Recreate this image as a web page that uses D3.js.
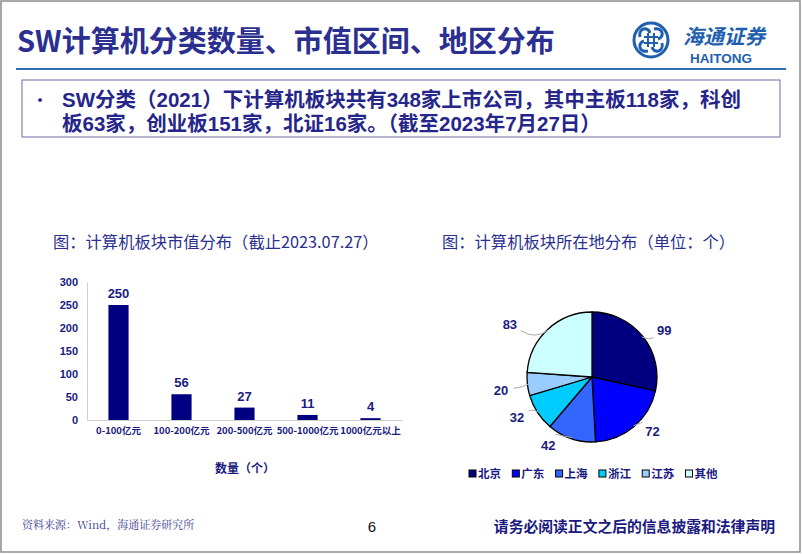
<!DOCTYPE html>
<html>
<head>
<meta charset="utf-8">
<script src="https://cdn.jsdelivr.net/npm/d3@7"></script>
<style>
  body { margin: 0; background: #fff; }
  svg text { font-family: "Noto Sans CJK SC", "Liberation Sans", Arial, sans-serif; }
</style>
</head>
<body>
<div id="chart"></div>
<script>
var width = 802, height = 554;
var navy = "#25258a";

// bar chart data
var capCategories = ["0-100亿元", "100-200亿元", "200-500亿元", "500-1000亿元", "1000亿元以上"];
var capCounts = [250, 56, 27, 11, 4];
var capTicks = [0, 50, 100, 150, 200, 250, 300];

// pie data
var regions = ["北京", "广东", "上海", "浙江", "江苏", "其他"];
var regionCounts = [99, 72, 42, 32, 20, 83];
var regionColors = ["#000080", "#0000ff", "#3366ff", "#00ccff", "#99ccff", "#ccffff"];

var svg = d3.select("#chart").append("svg").attr("width", width).attr("height", height);

// slide frame
svg.append("rect").attr("x", 1).attr("y", 1).attr("width", width - 3).attr("height", height - 3)
  .style("fill", "none").style("stroke", "#8c8c8c").style("stroke-width", 1.5);

// header
svg.append("text").attr("x", 17).attr("y", 52).text("SW计算机分类数量、市值区间、地区分布")
  .style("font-size", "29px").style("font-weight", "bold").style("fill", "#2b2f8f");
svg.append("line").attr("x1", 16).attr("x2", 786).attr("y1", 69).attr("y2", 69)
  .style("stroke", "#2f6fb3").style("stroke-width", 2);

// logo
var logo = svg.append("g").attr("transform", "translate(651,40)");
logo.append("circle").attr("r", 17).style("fill", "none").style("stroke", "#1f5fae").style("stroke-width", 3);
logo.append("path").attr("d", "M-11,-3 C-13,-12 -3,-14 -1,-7 M11,3 C13,12 3,14 1,7 M-3,11 C-12,13 -14,3 -7,1 M3,-11 C12,-13 14,-3 7,-1")
  .style("fill", "none").style("stroke", "#1f5fae").style("stroke-width", 3);
logo.append("path").attr("d", "M-7,-3 H7 M-7,3 H7 M-3,-7 V7 M3,-7 V7")
  .style("fill", "none").style("stroke", "#1f5fae").style("stroke-width", 2);
svg.append("text").attr("x", 683).attr("y", 44).text("海通证券")
  .style("font-size", "20.5px").style("font-style", "italic").style("font-weight", "bold").style("fill", "#1f5fae");
svg.append("text").attr("x", 721).attr("y", 63).attr("text-anchor", "middle").text("HAITONG")
  .style("font-size", "13.5px").style("font-weight", "bold").style("fill", "#1f5fae")
  .style("font-family", "Liberation Sans, Arial, sans-serif");

// summary box
svg.append("rect").attr("x", 22).attr("y", 80).attr("width", 758).attr("height", 57)
  .style("fill", "#fff").style("stroke", "#6a6aa8").style("stroke-width", 1);
svg.append("text").attr("x", 31).attr("y", 107).text("•")
  .style("font-size", "18px").style("fill", navy);
var boxLines = ["SW分类（2021）下计算机板块共有348家上市公司，其中主板118家，科创",
                "板63家，创业板151家，北证16家。（截至2023年7月27日）"];
svg.selectAll(".boxline").data(boxLines).enter().append("text")
  .attr("class", "boxline")
  .attr("x", 62).attr("y", function(d, i) { return 107 + i * 24; })
  .text(function(d) { return d; })
  .style("font-family", "Liberation Sans, Noto Sans CJK SC, sans-serif")
  .style("font-size", "20.5px").style("font-weight", "bold").style("fill", navy);

// chart titles
svg.append("text").attr("x", 53).attr("y", 248).text("图：计算机板块市值分布（截止2023.07.27）")
  .style("font-size", "16.3px").style("fill", "#2b2f8f");
svg.append("text").attr("x", 442).attr("y", 248).text("图：计算机板块所在地分布（单位：个）")
  .style("font-size", "16.3px").style("fill", "#2b2f8f");

// bar chart
var x = d3.scaleBand().domain(capCategories).range([87, 402]).paddingInner(0.68).paddingOuter(0.34);
var y = d3.scaleLinear().domain([0, 300]).range([420, 282]);

var g = svg.append("g");
var yAxis = g.append("g").attr("transform", "translate(87,0)")
  .call(d3.axisLeft(y).tickValues(capTicks).tickSize(0).tickPadding(9));
yAxis.select(".domain").style("stroke", "#d0d0d0");
yAxis.selectAll("text").style("font-size", "11px").style("font-weight", "bold").style("fill", "#1a1a80")
  .style("font-family", "Liberation Sans, Arial, sans-serif");

var xAxis = g.append("g").attr("transform", "translate(0,420)")
  .call(d3.axisBottom(x).tickSize(0).tickPadding(7));
xAxis.select(".domain").style("stroke", "#d0d0d0");
xAxis.selectAll("text").style("font-size", "9.5px").style("font-weight", "bold").style("fill", "#1a1a80");

g.selectAll(".bar").data(capCounts).enter().append("rect")
  .attr("class", "bar")
  .attr("x", function(d, i) { return x(capCategories[i]); })
  .attr("y", function(d) { return y(d); })
  .attr("width", x.bandwidth())
  .attr("height", function(d) { return y(0) - y(d); })
  .style("fill", "#000080");

g.selectAll(".barlabel").data(capCounts).enter().append("text")
  .attr("class", "barlabel")
  .attr("x", function(d, i) { return x(capCategories[i]) + x.bandwidth() / 2; })
  .attr("y", function(d) { return y(d) - 7; })
  .attr("text-anchor", "middle")
  .text(function(d) { return d; })
  .style("font-size", "13px").style("font-weight", "bold").style("fill", "#1a1a80")
  .style("font-family", "Liberation Sans, Arial, sans-serif");

svg.append("text").attr("x", 245).attr("y", 473).attr("text-anchor", "middle").text("数量（个）")
  .style("font-size", "12px").style("font-weight", "bold").style("fill", "#1a1a80");

// pie chart
var cx = 592, cy = 377, r = 65;
var pie = d3.pie().sort(null).value(function(d) { return d; });
var arcs = pie(regionCounts);
var arc = d3.arc().innerRadius(0).outerRadius(r);
var pg = svg.append("g").attr("transform", "translate(" + cx + "," + cy + ")");
pg.selectAll(".slice").data(arcs).enter().append("path")
  .attr("class", "slice")
  .attr("d", arc)
  .style("fill", function(d, i) { return regionColors[i]; })
  .style("stroke", "#000").style("stroke-width", 1.3);

// label placement: distance from centre and angular nudge (degrees) per slice
var labelDist = [86, 81, 81, 85, 92, 98];
var labelNudge = [6, -8, 14, 5, -2, -14];
function labelAngle(d, i) { return (d.startAngle + d.endAngle) / 2 + labelNudge[i] * Math.PI / 180; }

pg.selectAll(".leader").data(arcs).enter().append("path")
  .attr("class", "leader")
  .attr("d", function(d, i) {
    var a = labelAngle(d, i);
    var mid = (d.startAngle + d.endAngle) / 2;
    var p1 = [Math.sin(mid) * (r - 1), -Math.cos(mid) * (r - 1)];
    var p2 = [Math.sin(a) * (labelDist[i] - 13), -Math.cos(a) * (labelDist[i] - 13)];
    var c = [Math.sin(a) * (r + 3), -Math.cos(a) * (r + 3)];
    return "M" + p1 + "Q" + c + " " + p2;
  })
  .style("fill", "none").style("stroke", "#a8a8a8").style("stroke-width", 1);

pg.selectAll(".pielabel").data(arcs).enter().append("text")
  .attr("class", "pielabel")
  .attr("x", function(d, i) { return Math.sin(labelAngle(d, i)) * labelDist[i]; })
  .attr("y", function(d, i) { return -Math.cos(labelAngle(d, i)) * labelDist[i] + 5; })
  .attr("text-anchor", "middle")
  .text(function(d) { return d.data; })
  .style("font-size", "13px").style("font-weight", "bold").style("fill", "#1a1a80")
  .style("font-family", "Liberation Sans, Arial, sans-serif");

// legend
var legend = svg.selectAll(".legend").data(regions).enter().append("g")
  .attr("class", "legend")
  .attr("transform", function(d, i) { return "translate(" + (469 + i * 43.3) + ",474)"; });
legend.append("rect").attr("x", 0).attr("y", -4).attr("width", 7).attr("height", 7)
  .style("fill", function(d, i) { return regionColors[i]; })
  .style("stroke", "#000").style("stroke-width", 1);
legend.append("text").attr("x", 9).attr("y", 4).text(function(d) { return d; })
  .style("font-size", "11.5px").style("font-weight", "bold").style("fill", "#1a1a80");

// footer
svg.append("text").attr("x", 22).attr("y", 529).text("资料来源：Wind，海通证券研究所")
  .style("font-size", "11px").style("fill", "#3a3a90")
  .style("font-family", "Noto Serif CJK SC, Liberation Serif, serif");
svg.append("text").attr("x", 372).attr("y", 532).attr("text-anchor", "middle").text("6")
  .style("font-size", "15px").style("fill", "#111")
  .style("font-family", "Liberation Sans, Arial, sans-serif");
svg.append("text").attr("x", 775).attr("y", 532).attr("text-anchor", "end").text("请务必阅读正文之后的信息披露和法律声明")
  .style("font-size", "14.8px").style("font-weight", "bold").style("fill", "#1a1a80");
</script>
</body>
</html>
